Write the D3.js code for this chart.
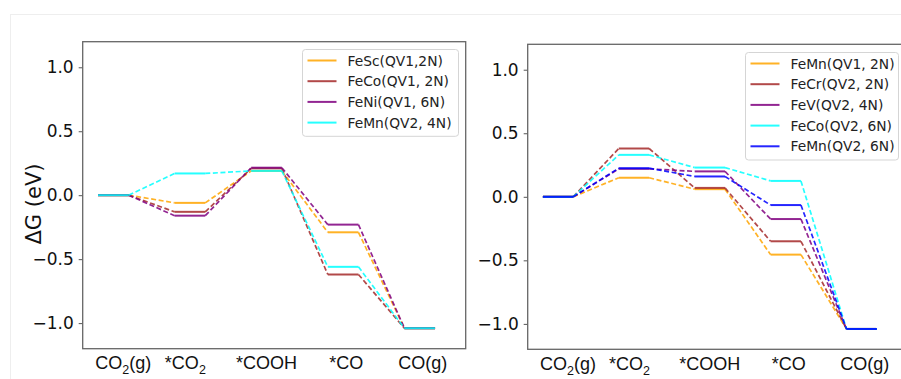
<!DOCTYPE html>
<html>
<head>
<meta charset="utf-8">
<script src="https://cdn.jsdelivr.net/npm/d3@7"></script>
<style>
  body { margin: 0; background: #fff; }
  svg { display: block; font-family: "DejaVu Sans", sans-serif; }
</style>
</head>
<body>
<div id="chart"></div>
<script>
// reaction steps (x categories)
var steps = ["CO2(g)", "*CO2", "*COOH", "*CO", "CO(g)"];
var stepLabelPos = [0.33, 1.14, 2.2, 3.24, 4.24];
var yTicks = [-1.0, -0.5, 0.0, 0.5, 1.0];

// left panel series
var leftNames = ["FeSc(QV1,2N)", "FeCo(QV1, 2N)", "FeNi(QV1, 6N)", "FeMn(QV2, 4N)"];
var feScQV1_2N = [0, -0.06, 0.19, -0.29, -1.04];
var feCoQV1_2N = [0, -0.13, 0.21, -0.62, -1.04];
var feNiQV1_6N = [0, -0.16, 0.215, -0.23, -1.04];
var feMnQV2_4N = [0, 0.17, 0.19, -0.56, -1.04];

// right panel series
var rightNames = ["FeMn(QV1, 2N)", "FeCr(QV2, 2N)", "FeV(QV2, 4N)", "FeCo(QV2, 6N)", "FeMn(QV2, 6N)"];
var feMnQV1_2N = [0, 0.15, 0.06, -0.455, -1.04];
var feCrQV2_2N = [0, 0.38, 0.07, -0.35, -1.04];
var feVQV2_4N = [0, 0.22, 0.20, -0.175, -1.04];
var feCoQV2_6N = [0, 0.33, 0.23, 0.125, -1.04];
var feMnQV2_6N = [0, 0.225, 0.16, -0.065, -1.04];

var leftColors = ["#FFA500", "#A52A2A", "#800080", "#00FFFF"];
var rightColors = ["#FFA500", "#A52A2A", "#800080", "#00FFFF", "#0000FF"];

var W = 901, H = 379;
var stepWidth = 0.4;

var svg = d3.select("#chart").append("svg")
  .attr("width", W)
  .attr("height", H);

// faint image border
svg.append("line").attr("x1", 10).attr("x2", W).attr("y1", 14.5).attr("y2", 14.5)
  .style("stroke", "#eeeeee");
svg.append("line").attr("x1", 10.5).attr("x2", 10.5).attr("y1", 14).attr("y2", H)
  .style("stroke", "#eeeeee");

function drawPanel(p) {
  var x = d3.scaleLinear().domain([-0.2, 4.8]).range([p.left, p.right]);
  var y = d3.scaleLinear().domain([-1.2, 1.2]).range([p.bottom, p.top]);

  var g = svg.append("g");

  // y axis ticks + labels
  var yAxis = d3.axisLeft(y)
    .tickValues(yTicks)
    .tickSize(4)
    .tickPadding(5)
    .tickFormat(d3.format(".1f"));
  var ya = g.append("g")
    .attr("transform", "translate(" + p.left + ",0)")
    .call(yAxis);
  ya.select(".domain").remove();
  ya.selectAll("line").style("stroke", "#555").style("stroke-width", 1);
  ya.selectAll("text")
    .style("font-family", "DejaVu Sans, sans-serif")
    .style("font-size", "17px")
    .style("fill", "#111");

  // x labels (with subscripts)
  steps.forEach(function (s, i) {
    var t = g.append("text")
      .attr("x", x(stepLabelPos[i]))
      .attr("y", p.labelY)
      .attr("text-anchor", "middle")
      .style("font-family", "Liberation Sans, Arial, sans-serif")
      .style("font-size", "18px")
      .style("fill", "#111");
    var m = s.match(/^(\*?CO)2(.*)$/);
    if (m) {
      t.append("tspan").text(m[1]);
      t.append("tspan").text("2").attr("dy", 5).style("font-size", "12.5px");
      if (m[2]) t.append("tspan").text(m[2]).attr("dy", -5);
    } else {
      t.text(s);
    }
  });

  // energy profiles
  var plot = g.append("g");
  p.series.forEach(function (vals, k) {
    var color = p.colors[k];
    // connectors
    for (var i = 0; i < vals.length - 1; i++) {
      plot.append("line")
        .attr("x1", x(i + stepWidth)).attr("y1", y(vals[i]))
        .attr("x2", x(i + 1)).attr("y2", y(vals[i + 1]))
        .style("stroke", color)
        .style("stroke-width", 1.7)
        .style("stroke-dasharray", "5,2.6")
        .style("opacity", 0.85);
    }
    // levels
    vals.forEach(function (v, i) {
      plot.append("line")
        .attr("x1", x(i)).attr("y1", y(v))
        .attr("x2", x(i + stepWidth)).attr("y2", y(v))
        .style("stroke", color)
        .style("stroke-width", 2)
        .style("opacity", 0.85);
    });
  });

  // frame
  g.append("rect")
    .attr("x", p.left).attr("y", p.top)
    .attr("width", p.right - p.left).attr("height", p.bottom - p.top)
    .style("fill", "none")
    .style("stroke", "#666")
    .style("stroke-width", 1.3);

  // legend
  var lg = g.append("g");
  var rowH = 20.7;
  lg.append("rect")
    .attr("x", p.legX).attr("y", p.legY)
    .attr("width", p.legW).attr("height", p.names.length * rowH + 4)
    .attr("rx", 3)
    .style("fill", "#fff")
    .style("stroke", "#d5d5d5")
    .style("stroke-width", 1);
  p.names.forEach(function (name, k) {
    var cy = p.legY + 11 + k * rowH;
    lg.append("line")
      .attr("x1", p.legX + 5).attr("x2", p.legX + 34)
      .attr("y1", cy).attr("y2", cy)
      .style("stroke", p.colors[k])
      .style("stroke-width", 2)
      .style("opacity", 0.85);
    lg.append("text")
      .attr("x", p.legX + 45).attr("y", cy + 5)
      .style("font-size", "13.8px")
      .style("fill", "#222")
      .text(name);
  });
}

drawPanel({
  left: 82.7, right: 465.7, top: 41.7, bottom: 348.7, labelY: 369,
  series: [feScQV1_2N, feCoQV1_2N, feNiQV1_6N, feMnQV2_4N],
  colors: leftColors, names: leftNames,
  legX: 302.5, legY: 49.5, legW: 156
});

drawPanel({
  left: 527.7, right: 907.2, top: 44.3, bottom: 349.3, labelY: 370,
  series: [feMnQV1_2N, feCrQV2_2N, feVQV2_4N, feCoQV2_6N, feMnQV2_6N],
  colors: rightColors, names: rightNames,
  legX: 745.5, legY: 52.5, legW: 153
});

// y axis title
svg.append("text")
  .attr("transform", "translate(41,204) rotate(-90)")
  .attr("text-anchor", "middle")
  .style("font-size", "21px")
  .style("fill", "#111")
  .text("ΔG (eV)");
</script>
</body>
</html>
